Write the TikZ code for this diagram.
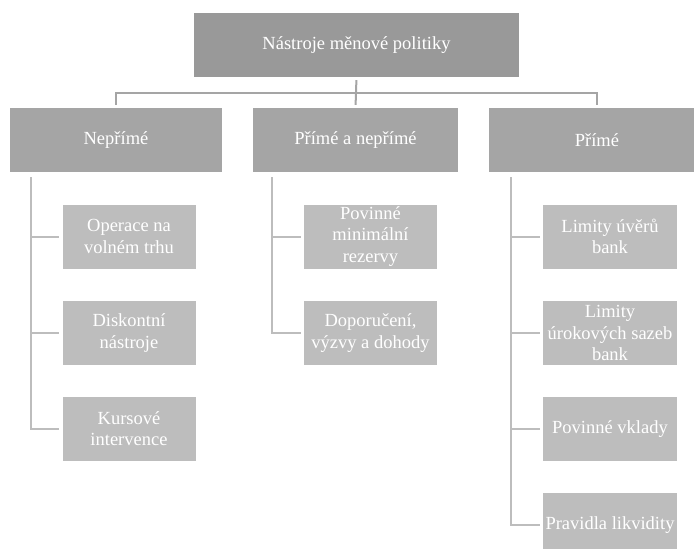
\documentclass[tikz,border=0pt]{standalone}
\usepackage{fontspec}
\setmainfont{Liberation Serif}
\usetikzlibrary{calc}
\definecolor{topgray}{HTML}{999999}
\definecolor{midgray}{HTML}{A5A5A5}
\definecolor{subgray}{HTML}{BDBDBD}

\begin{document}
\begin{tikzpicture}[x=1pt,y=-1pt,
  every node/.style={font=\fontsize{18.5}{21.5}\selectfont,text=white,align=center,inner sep=0pt},
  head/.style={fill=topgray,minimum width=325,minimum height=64},
  group/.style={fill=midgray,minimum width=212,minimum height=64},
  item/.style={fill=subgray,minimum width=133,minimum height=64},
  link/.style={draw=midgray,line width=2pt,shorten <=3pt,shorten >=3pt},
  sublink/.style={draw=subgray,line width=2pt,shorten <=5pt,shorten >=3pt}]
\useasboundingbox (0,0) rectangle (694,549);
\clip (0,0) rectangle (694,549);
% root and groups
\node[head] (root) at (356.5,45) {Nástroje měnové politiky};
\node[group] (nep) at (116,140) {Nepřímé};
\node[group,minimum width=205] (mix) at (355.5,140) {Přímé a nepřímé};
\node[group,minimum width=216] (pri) at (597,140) {Přímé};
% left column
\node[item] (opr) at (129,236.5) {Operace na\\volném trhu};
\node[item] (disk) at (129,333) {Diskontní\\nástroje};
\node[item] (kurs) at (129,428.5) {Kursové\\intervence};
% middle column
\node[item] (rez) at (370.5,236.5) {Povinné\\minimální\\rezervy};
\node[item] (dop) at (370.5,333) {Doporučení,\\výzvy a dohody};
% right column
\node[item,minimum width=134] (lim) at (610,236.5) {Limity úvěrů\\bank};
\node[item,minimum width=134] (sazby) at (610,333) {Limity\\úrokových sazeb\\bank};
\node[item,minimum width=134] (vkl) at (610,429) {Povinné vklady};
\node[item,minimum width=134] (likv) at (610,525) {Pravidla likvidity};
% connectors
\coordinate (bar) at (0,93);
\draw[link] (root.south) -- (mix.north);
\draw[link] (nep.north) |- (bar -| pri.north) -- (pri.north);
\foreach \g/\c/\d in {nep/opr/21,nep/disk/21,nep/kurs/21,mix/rez/19,mix/dop/19,
                      pri/lim/22,pri/sazby/22,pri/vkl/22,pri/likv/22}
  \draw[sublink] ($(\g.south west)+(\d,0)$) |- (\c.west);
\end{tikzpicture}
\end{document}
